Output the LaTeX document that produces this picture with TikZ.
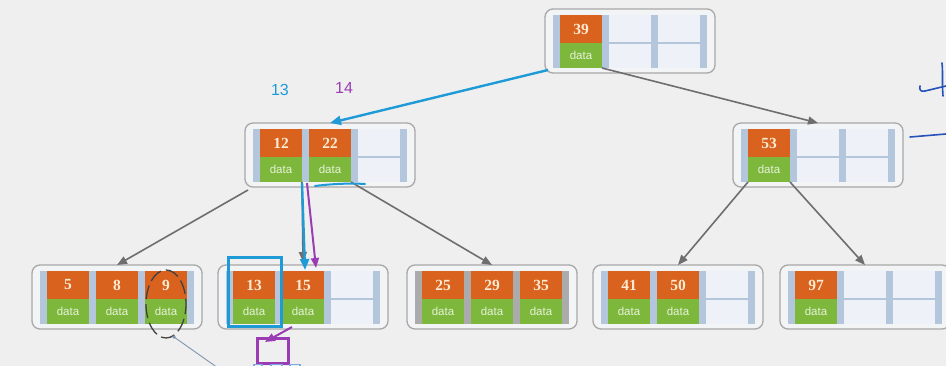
\documentclass[tikz,border=0pt]{standalone}
\usepackage{fontspec}
\setmainfont{Liberation Serif}
\newfontfamily\sansf{Liberation Sans}
\usetikzlibrary{calc,arrows.meta}
\definecolor{bgc}{HTML}{EFEFEF}
\definecolor{boxline}{HTML}{A8A8A8}
\definecolor{boxfill}{HTML}{F3F4F6}
\definecolor{stripblue}{HTML}{B4C6DC}
\definecolor{stripgray}{HTML}{ABABAB}
\definecolor{keyorange}{HTML}{D8621E}
\definecolor{datagreen}{HTML}{7DB83C}
\definecolor{keytext}{HTML}{FCEBD2}
\definecolor{datatext}{HTML}{E6F2D8}
\definecolor{emptyc}{HTML}{EEF2F8}
\definecolor{arrowgray}{HTML}{6E6E6E}
\definecolor{annblue}{HTML}{1E9BD7}
\definecolor{annpurple}{HTML}{9A3DB4}
\definecolor{inkblue}{HTML}{2452B8}
\definecolor{thinblue}{HTML}{7F95B0}
\definecolor{bitblue}{HTML}{7FA8E0}
\tikzset{
 outerbox/.style={draw=boxline, line width=1.3pt, rounded corners=8pt, fill=boxfill, minimum width=170pt, minimum height=64pt, inner sep=0pt, outer sep=0pt},
 keycell/.style={fill=keyorange, text=keytext, font=\fontsize{15.5}{15.5}\selectfont\bfseries, minimum width=42pt, minimum height=28pt, inner sep=0pt, outer sep=0pt},
 datacell/.style={fill=datagreen, text=datatext, font=\sansf\fontsize{11.5}{11.5}\selectfont, minimum width=42pt, minimum height=25pt, inner sep=0pt, outer sep=0pt},
 emptytop/.style={fill=emptyc, minimum width=42pt, minimum height=27pt, inner sep=0pt, outer sep=0pt},
 emptybot/.style={fill=emptyc, minimum width=42pt, minimum height=24pt, inner sep=0pt, outer sep=0pt},
 garrow/.style={draw=arrowgray, line width=1.6pt, -{Triangle[length=10pt,width=8pt]}},
 barrow/.style={draw=annblue, line width=2.4pt, -{Triangle[length=11pt,width=9pt]}},
 parrow/.style={draw=annpurple, line width=2pt, -{Triangle[length=10pt,width=8pt]}},
 numlabel/.style={font=\sansf\fontsize{16}{16}\selectfont, inner sep=1pt},
}
\newcommand\bcell[3]{%
 \ifx\relax#3\relax
  \node[emptytop,anchor=north west] (#1k) at (#2,6) {};
  \node[emptybot,anchor=north west] (#1d) at (#2,35) {};
 \else
  \node[keycell,anchor=north west] (#1k) at (#2,6) {#3};
  \node[datacell,anchor=north west] (#1d) at (#2,34) {data};
 \fi}
\newcommand\bnode[7]{%
 \begin{scope}[shift={(#2,#3)}]
  \node[outerbox,anchor=north west] (#1) at (0,0) {};
  \fill[#4] (8,6) rectangle (162,59);
  \bcell{#1-1}{15}{#5}
  \bcell{#1-2}{64}{#6}
  \bcell{#1-3}{113}{#7}
 \end{scope}}
\begin{document}
\begin{tikzpicture}[x=1pt,y=-1pt]
\fill[bgc] (0,0) rectangle (946,366);
\useasboundingbox (0,0) rectangle (946,366);

\bnode{root}{545}{9}{stripblue}{39}{}{}
\bnode{mid}{245}{123}{stripblue}{12}{22}{}
\bnode{nr}{733}{123}{stripblue}{53}{}{}
\bnode{la}{32}{265}{stripblue}{5}{8}{9}
\bnode{lb}{218}{265}{stripblue}{13}{15}{}
\bnode{lc}{407}{265}{stripgray}{25}{29}{35}
\bnode{ld}{593}{265}{stripblue}{41}{50}{}
\bnode{le}{780}{265}{stripblue}{97}{}{}

% tree connectors
\draw[garrow] (root-1d.south east) -- (nr.north);
\draw[garrow] ([xshift=3pt,yshift=-3pt]mid.south west) -- (la.north);
\draw[garrow] (mid-1d.south east) -- ([yshift=3pt]lb.north);
\draw[garrow] (mid-2d.south east) -- (lc.north);
\draw[garrow] (nr-1d.south west) -- (ld.north);
\draw[garrow] (nr-1d.south east) -- (le.north);

% highlighted path
\draw[barrow] ([xshift=-12pt,yshift=-2pt]root-1d.south west) -- (mid.north);
\draw[barrow] ([yshift=-1pt]mid-1d.south east) -- ([xshift=2pt,yshift=-5pt]lb.north);
\draw[parrow] ([xshift=5pt,yshift=-1pt]mid-1d.south east) -- ([xshift=13pt,yshift=-3pt]lb.north);
\draw[annblue, line width=2pt, line cap=round] (315,186) .. controls (330,184) and (350,183) .. (365,184);

% labels
\node[numlabel, text=annblue] (l13) at (280,90) {13};
\node[numlabel, text=annpurple] (l14) at (344,88) {14};

% annotations on leaf 13
\draw[annblue, line width=3pt] (228,258) rectangle (281,327);
\node[draw=annpurple, line width=2.6pt, minimum width=31pt, minimum height=25pt, inner sep=0pt, anchor=north west] (pbox) at (256,337) {};
\coordinate (pstart) at (292,327);
\draw[parrow] (pstart) -- ($(pbox.north west)+(9,5)$);
\foreach \a/\b in {254/262,271/282,290/300}{
 \draw[bitblue, line width=1.2pt] (\a,370) -- (\a,364.5) -- (\b,364.5) -- (\b,370);
}

% dashed ellipse around 9
\draw[black!75, line width=1.3pt, dash pattern=on 14pt off 5pt, dash phase=4pt] (166,304) ellipse [x radius=20, y radius=34];
\coordinate (dotp) at (174,337);
\fill[thinblue] (dotp) circle (1.8);
\draw[thinblue, line width=0.9pt] (dotp) -- (218,368);

% handwriting at right edge
\draw[inkblue, line width=1.6pt, line cap=round] (942,63) .. controls (943,72) and (942,84) .. (943,96);
\draw[inkblue, line width=1.6pt, line cap=round] (920,86) .. controls (919,90) and (921,92) .. (925,91) -- (946,86);
\draw[inkblue, line width=1.6pt, line cap=round] (910,137) -- (946,134);
\end{tikzpicture}
\end{document}
